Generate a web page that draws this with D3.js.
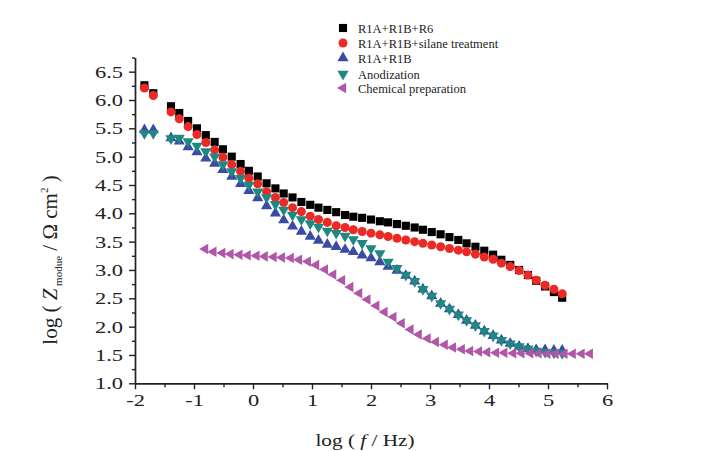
<!DOCTYPE html>
<html>
<head>
<meta charset="utf-8">
<script src="https://cdn.jsdelivr.net/npm/d3@7"></script>
<style>
  body { margin: 0; background: #fff; }
  .axis path, .axis line { stroke: #222; stroke-width: 1.4; }
</style>
</head>
<body>
<div id="chart"></div>
<script>
// log(f/Hz) of the measured points (four coatings share the same sweep)
const logF = [-1.84, -1.69,
  -1.39, -1.25, -1.10, -0.95, -0.80, -0.65, -0.51, -0.36, -0.21, -0.07,
  0.08, 0.23, 0.38, 0.52, 0.67, 0.82, 0.97, 1.11, 1.26, 1.41,
  1.56, 1.70, 1.85, 2.00, 2.15, 2.29, 2.44, 2.59, 2.74, 2.88,
  3.03, 3.18, 3.33, 3.48, 3.62, 3.77, 3.92, 4.07, 4.21, 4.36,
  4.51, 4.66, 4.80, 4.95, 5.10, 5.24];

// chemical preparation was swept over a different range
const logFChem = [-0.81, -0.67, -0.52, -0.38, -0.23, -0.09, 0.06, 0.20, 0.35, 0.49,
  0.64, 0.78, 0.93, 1.07, 1.22, 1.36, 1.51, 1.65, 1.80, 1.94,
  2.09, 2.23, 2.38, 2.52, 2.67, 2.81, 2.96, 3.10, 3.25, 3.39,
  3.54, 3.68, 3.83, 3.97, 4.12, 4.26, 4.41, 4.55, 4.70, 4.84,
  4.99, 5.13, 5.28, 5.42, 5.57, 5.71];

// log |Z| values per coating
const zR6 = [6.26, 6.12,
  5.89, 5.77, 5.63, 5.50, 5.38, 5.26, 5.13, 5.00, 4.87, 4.75,
  4.65, 4.53, 4.44, 4.35, 4.28, 4.20, 4.15, 4.10, 4.06, 4.02,
  3.97, 3.94, 3.92, 3.89, 3.86, 3.84, 3.81, 3.78, 3.75, 3.71,
  3.67, 3.63, 3.58, 3.53, 3.47, 3.41, 3.34, 3.27, 3.18, 3.09,
  3.00, 2.91, 2.81, 2.71, 2.61, 2.51];

const zSilane = [6.21, 6.08,
  5.79, 5.67, 5.53, 5.39, 5.25, 5.12, 4.99, 4.86, 4.74, 4.62,
  4.52, 4.38, 4.28, 4.19, 4.10, 4.03, 3.95, 3.89, 3.84, 3.78,
  3.75, 3.71, 3.68, 3.65, 3.62, 3.59, 3.56, 3.53, 3.50, 3.47,
  3.44, 3.41, 3.38, 3.35, 3.32, 3.28, 3.23, 3.19, 3.12, 3.06,
  2.99, 2.91, 2.82, 2.73, 2.66, 2.58];

const zR1AB = [5.47, 5.47,
  5.33, 5.27, 5.17, 5.08, 4.97, 4.88, 4.77, 4.65, 4.52, 4.40,
  4.27, 4.13, 4.00, 3.88, 3.77, 3.68, 3.59, 3.52, 3.45, 3.41,
  3.36, 3.32, 3.26, 3.21, 3.14, 3.06, 2.99, 2.90, 2.80, 2.66,
  2.54, 2.41, 2.31, 2.21, 2.11, 2.02, 1.92, 1.84, 1.76, 1.70,
  1.65, 1.61, 1.59, 1.59, 1.58, 1.58];

const zAnod = [5.41, 5.41,
  5.32, 5.33, 5.27, 5.19, 5.09, 5.00, 4.86, 4.74, 4.62, 4.50,
  4.38, 4.28, 4.16, 4.06, 3.97, 3.89, 3.82, 3.76, 3.69, 3.65,
  3.60, 3.54, 3.47, 3.38, 3.29, 3.14, 3.03, 2.91, 2.80, 2.66,
  2.54, 2.41, 2.31, 2.21, 2.11, 2.02, 1.92, 1.84, 1.76, 1.70,
  1.65, 1.61, 1.57, 1.55, 1.54, 1.53];

const zChem = [3.37, 3.32, 3.30, 3.28, 3.27, 3.26, 3.25, 3.24, 3.23, 3.22,
  3.21, 3.18, 3.15, 3.09, 3.01, 2.92, 2.82, 2.70, 2.59, 2.48,
  2.37, 2.26, 2.17, 2.06, 1.95, 1.86, 1.79, 1.73, 1.68, 1.63,
  1.60, 1.57, 1.56, 1.55, 1.54, 1.54, 1.53, 1.53, 1.53, 1.53,
  1.52, 1.52, 1.52, 1.52, 1.52, 1.52];

const xTicks = [-2, -1, 0, 1, 2, 3, 4, 5, 6];
const yTicks = [1.0, 1.5, 2.0, 2.5, 3.0, 3.5, 4.0, 4.5, 5.0, 5.5, 6.0, 6.5];

const series = [
  { name: "R1A+R1B+R6", x: logF, y: zR6, color: "#000000", shape: d3.symbolSquare, size: 66, rot: 0 },
  { name: "R1A+R1B+silane treatment", x: logF, y: zSilane, color: "#ec2a25", shape: d3.symbolCircle, size: 64, rot: 0 },
  { name: "R1A+R1B", x: logF, y: zR1AB, color: "#3a4ba6", shape: d3.symbolTriangle, size: 54, rot: 0 },
  { name: "Anodization", x: logF, y: zAnod, color: "#1f8880", shape: d3.symbolTriangle, size: 54, rot: 180 },
  { name: "Chemical preparation", x: logFChem, y: zChem, color: "#b057a8", shape: d3.symbolTriangle, size: 48, rot: -90 }
];

const SERIF = "'Liberation Serif', 'Times New Roman', 'DejaVu Serif', serif";
const W = 708, H = 451;
const svg = d3.select("#chart").append("svg").attr("width", W).attr("height", H)
  .style("display", "block");

// labels in this figure are set wide; stretch text horizontally by k
function widen(sel, k) {
  sel.each(function () {
    const w = this.getComputedTextLength();
    d3.select(this).attr("textLength", w * k).attr("lengthAdjust", "spacingAndGlyphs");
  });
}

const x = d3.scaleLinear().domain([-2, 6]).range([135, 607]);
const y = d3.scaleLinear().domain([1, 6.75]).range([383.3, 57.5]);

//==== axes ====
const xMinor = d3.range(-1.5, 6, 1);
svg.append("g").attr("class", "axis")
  .attr("transform", `translate(0,${y(1)})`)
  .call(d3.axisBottom(x).tickValues(xMinor).tickSize(4).tickFormat("").tickSizeOuter(0));
svg.append("g").attr("class", "axis")
  .attr("transform", `translate(0,${y(1)})`)
  .call(d3.axisBottom(x).tickValues(xTicks).tickSize(6).tickPadding(5).tickSizeOuter(0)
    .tickFormat(d => d < 0 ? "-" + Math.abs(d) : d));

const yMinor = d3.range(1.25, 6.8, 0.5);
svg.append("g").attr("class", "axis")
  .attr("transform", `translate(${x(-2)},0)`)
  .call(d3.axisLeft(y).tickValues(yMinor).tickSize(3).tickFormat("").tickSizeOuter(0));
svg.append("g").attr("class", "axis")
  .attr("transform", `translate(${x(-2)},0)`)
  .call(d3.axisLeft(y).tickValues(yTicks).tickSize(6).tickPadding(6).tickSizeOuter(0)
    .tickFormat(d3.format(".1f")));

svg.selectAll(".axis text")
  .attr("font-family", null).attr("font-size", null)
  .style("font-family", SERIF).style("font-size", "17px").attr("fill", "#222")
  .call(widen, 1.32);

//==== axis titles ====
const xt = svg.append("text")
  .attr("transform", "translate(365,446) scale(1.25,1)")
  .attr("text-anchor", "middle")
  .style("font-family", SERIF).style("font-size", "17px").attr("fill", "#222");
xt.append("tspan").text("log ( ");
xt.append("tspan").attr("font-style", "italic").text("f");
xt.append("tspan").text(" / Hz)");

const yt = svg.append("text").attr("transform", "translate(57,260) rotate(-90)")
  .attr("text-anchor", "middle")
  .style("font-family", SERIF).style("font-size", "21px").attr("fill", "#222");
yt.append("tspan").text("log ( ");
yt.append("tspan").attr("font-style", "italic").text("Z");
yt.append("tspan").attr("dy", 5).style("font-size", "11px").text(" modue");
yt.append("tspan").attr("dy", -5).text(" / Ω cm");
yt.append("tspan").attr("dy", -9).style("font-size", "11px").text("2");
yt.append("tspan").attr("dy", 9).text(" )");

//==== markers ====
series.forEach(s => {
  const sym = d3.symbol().type(s.shape).size(s.size);
  svg.append("g").selectAll("path")
    .data(s.x.map((v, i) => [v, s.y[i]]))
    .enter().append("path")
    .attr("d", sym)
    .attr("fill", s.color)
    .attr("transform", d => `translate(${x(d[0])},${y(d[1])}) rotate(${s.rot})`);
});

//==== legend ====
const legendY = [28, 43, 58, 74, 88];
const legend = svg.append("g");
series.forEach((s, i) => {
  legend.append("path")
    .attr("d", d3.symbol().type(s.shape).size(s.size)())
    .attr("fill", s.color)
    .attr("transform", `translate(343,${legendY[i]}) rotate(${s.rot})`);
  legend.append("text")
    .attr("x", 358).attr("y", legendY[i] + 4.5)
    .style("font-family", SERIF).style("font-size", "12.5px").attr("fill", "#222")
    .text(s.name);
});
</script>
</body>
</html>
